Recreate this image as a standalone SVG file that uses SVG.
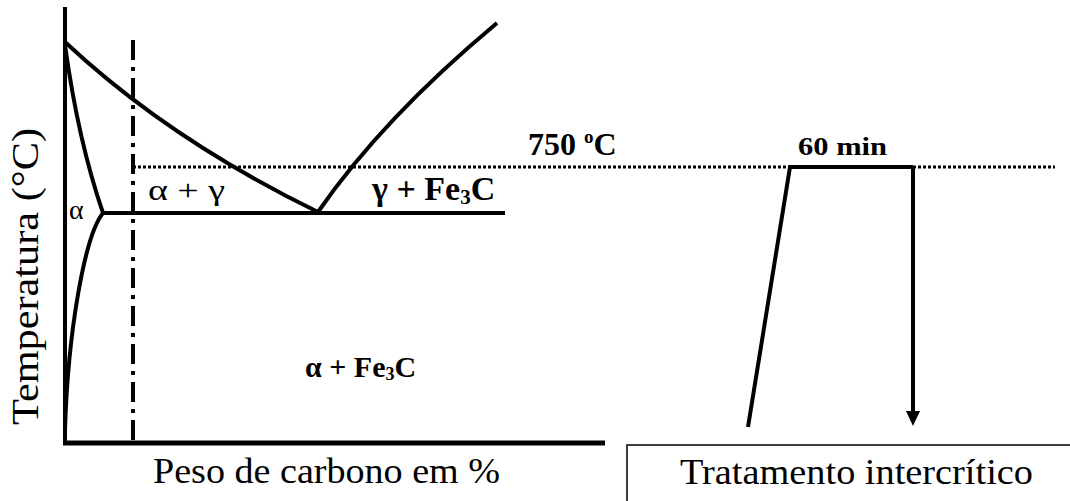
<svg xmlns="http://www.w3.org/2000/svg" width="1070" height="501" viewBox="0 0 1070 501">
<defs>
<style>
.ln{fill:none;stroke:#000;stroke-width:4;stroke-linecap:butt}
text{font-family:'Liberation Serif','Times New Roman',Times,serif;fill:#000}
.b{font-weight:bold}
</style>
</defs>
<rect width="1070" height="501" fill="#fff"/>
<g id="axes">
<line class="ln" x1="65" y1="7" x2="65" y2="445"/>
<line class="ln" x1="63" y1="443" x2="605" y2="443" style="stroke-width:5"/>
</g>
<g id="phase-lines">
<path class="ln" d="M65,42 Q168.5,139 318,212"/>
<path class="ln" d="M318,212 Q382.5,118.5 497,23"/>
<path class="ln" d="M65,45 Q78,140 103,213"/>
<path class="ln" d="M103,213 C85,235 68,330 65,430"/>
<line class="ln" x1="102" y1="213" x2="505" y2="213"/>
<line class="ln" x1="133" y1="40" x2="133" y2="443" style="stroke-dasharray:20 7 4 7"/>
<line class="ln" x1="133" y1="167" x2="1055" y2="167" style="stroke-width:3;stroke-dasharray:3 2"/>
</g>
<g id="labels">
<text x="69" y="219" font-size="28" font-family="Liberation Serif">α</text>
<text x="148" y="200" font-size="29" font-family="Liberation Serif" textLength="77" lengthAdjust="spacingAndGlyphs">α + γ</text>
<text class="b" x="372" y="200" font-size="34" font-family="Liberation Serif">γ + Fe<tspan font-size="21" dy="4">3</tspan><tspan dy="-4">C</tspan></text>
<text class="b" x="305" y="377" font-size="30" font-family="Liberation Serif">α + Fe<tspan font-size="18" dy="3">3</tspan><tspan dy="-3">C</tspan></text>
<text class="b" x="528" y="155" font-size="32" font-family="Liberation Serif">750 <tspan font-size="19" dy="-12">o</tspan><tspan dy="12">C</tspan></text>
<text class="b" x="798" y="155" font-size="26" font-family="Liberation Serif" textLength="89" lengthAdjust="spacingAndGlyphs">60 min</text>
<text transform="translate(38,425) rotate(-90)" font-size="37" font-family="Liberation Serif" textLength="297" lengthAdjust="spacingAndGlyphs">Temperatura (°C)</text>
<text x="153" y="483" font-size="35" font-family="Liberation Serif" textLength="347" lengthAdjust="spacingAndGlyphs">Peso de carbono em %</text>
</g>
<g id="treatment">
<polyline class="ln" points="748,427 790,167 913,167"/>
<line class="ln" x1="913" y1="167" x2="913" y2="412"/>
<path d="M906,411 L920,411 L913,426 Z" fill="#000"/>
</g>
<g id="box-tratamento">
<rect x="627" y="445" width="460" height="70" fill="none" stroke="#000" stroke-width="1.5"/>
<text x="680" y="484" font-size="35" font-family="Liberation Serif" textLength="353" lengthAdjust="spacingAndGlyphs">Tratamento intercrítico</text>
</g>
</svg>
